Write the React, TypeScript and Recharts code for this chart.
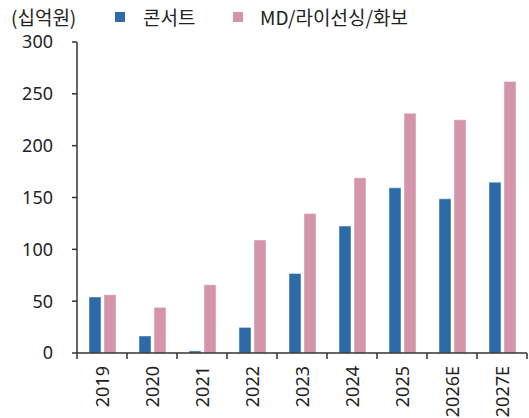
import React from 'react';
import { BarChart, Bar, XAxis, YAxis } from 'recharts';

const years = ['2019', '2020', '2021', '2022', '2023', '2024', '2025', '2026E', '2027E'];
const concert = [54, 16.4, 2, 24.7, 76.7, 122.4, 159.3, 148.7, 164.8];
const mdLicensing = [56.2, 44, 65.8, 109, 134.5, 169, 231.3, 225, 262];
const yTicks = [0, 50, 100, 150, 200, 250, 300];

const BLUE = '#2C6BA8';
const PINK = '#D494A9';
const AXIS = '#333333';
const FONT = '"Noto Sans CJK KR", "Noto Sans", sans-serif';
const NUM_FONT = '"Noto Sans", "Noto Sans CJK KR", sans-serif';

const data = years.map((year, i) => ({
  year,
  concert: concert[i],
  md: mdLicensing[i]
}));

// year label rotated, plus tick marks on the category boundaries
const YearTick = (props: any) => {
  const { x, y, payload, index, visibleTicksCount } = props;
  const half = payload.offset || 0;
  const isLast = index === visibleTicksCount - 1;
  const ty = y + 13;
  return (
    <g>
      <line x1={x - half} x2={x - half} y1={y} y2={y + 6} stroke={AXIS} strokeWidth={1.5} />
      {isLast && <line x1={x + half} x2={x + half} y1={y} y2={y + 6} stroke={AXIS} strokeWidth={1.5} />}
      <text
        x={x}
        y={ty}
        transform={`rotate(-90, ${x}, ${ty})`}
        textAnchor="end"
        dominantBaseline="central"
        fontSize={18}
        fill="#222"
        fontFamily={NUM_FONT}
      >
        {payload.value}
      </text>
    </g>
  );
};

const LegendRow = () => (
  <div
    style={{
      position: 'absolute',
      top: 6,
      left: 0,
      display: 'flex',
      alignItems: 'center',
      fontFamily: FONT,
      fontSize: 19,
      lineHeight: '22px',
      color: '#222',
      whiteSpace: 'nowrap'
    }}
  >
    <span style={{ marginLeft: 11, width: 104 }}>(십억원)</span>
    <span style={{ width: 10, height: 10, background: BLUE, display: 'inline-block' }} />
    <span style={{ marginLeft: 18, width: 90 }}>콘서트</span>
    <span style={{ width: 10, height: 10, background: PINK, display: 'inline-block' }} />
    <span style={{ marginLeft: 17 }}>MD/라이선싱/화보</span>
  </div>
);

export default function App() {
  return (
    <div style={{ position: 'absolute', left: 0, top: 0, width: 529, height: 418, overflow: 'hidden', background: '#fff' }}>
      <BarChart
        width={529}
        height={418}
        data={data}
        margin={{ top: 42, right: 2, left: 0, bottom: 0 }}
        barGap={3}
        barCategoryGap="24%"
      >
        <XAxis
          dataKey="year"
          height={65}
          interval={0}
          tickSize={0}
          tickMargin={0}
          tickLine={false}
          axisLine={{ stroke: AXIS, strokeWidth: 1.5 }}
          tick={<YearTick />}
        />
        <YAxis
          width={77}
          domain={[0, 300]}
          ticks={yTicks}
          interval={0}
          tickSize={5}
          tickMargin={19}
          axisLine={{ stroke: AXIS, strokeWidth: 1.5 }}
          tickLine={{ stroke: AXIS, strokeWidth: 1.5 }}
          tick={{ fontSize: 18, fill: '#222', fontFamily: NUM_FONT }}
        />
        <Bar dataKey="concert" name="콘서트" fill={BLUE} stroke="#ffffff" strokeOpacity={0.45} isAnimationActive={false} />
        <Bar dataKey="md" name="MD/라이선싱/화보" fill={PINK} stroke="#ffffff" strokeOpacity={0.45} isAnimationActive={false} />
      </BarChart>
      <LegendRow />
    </div>
  );
}
